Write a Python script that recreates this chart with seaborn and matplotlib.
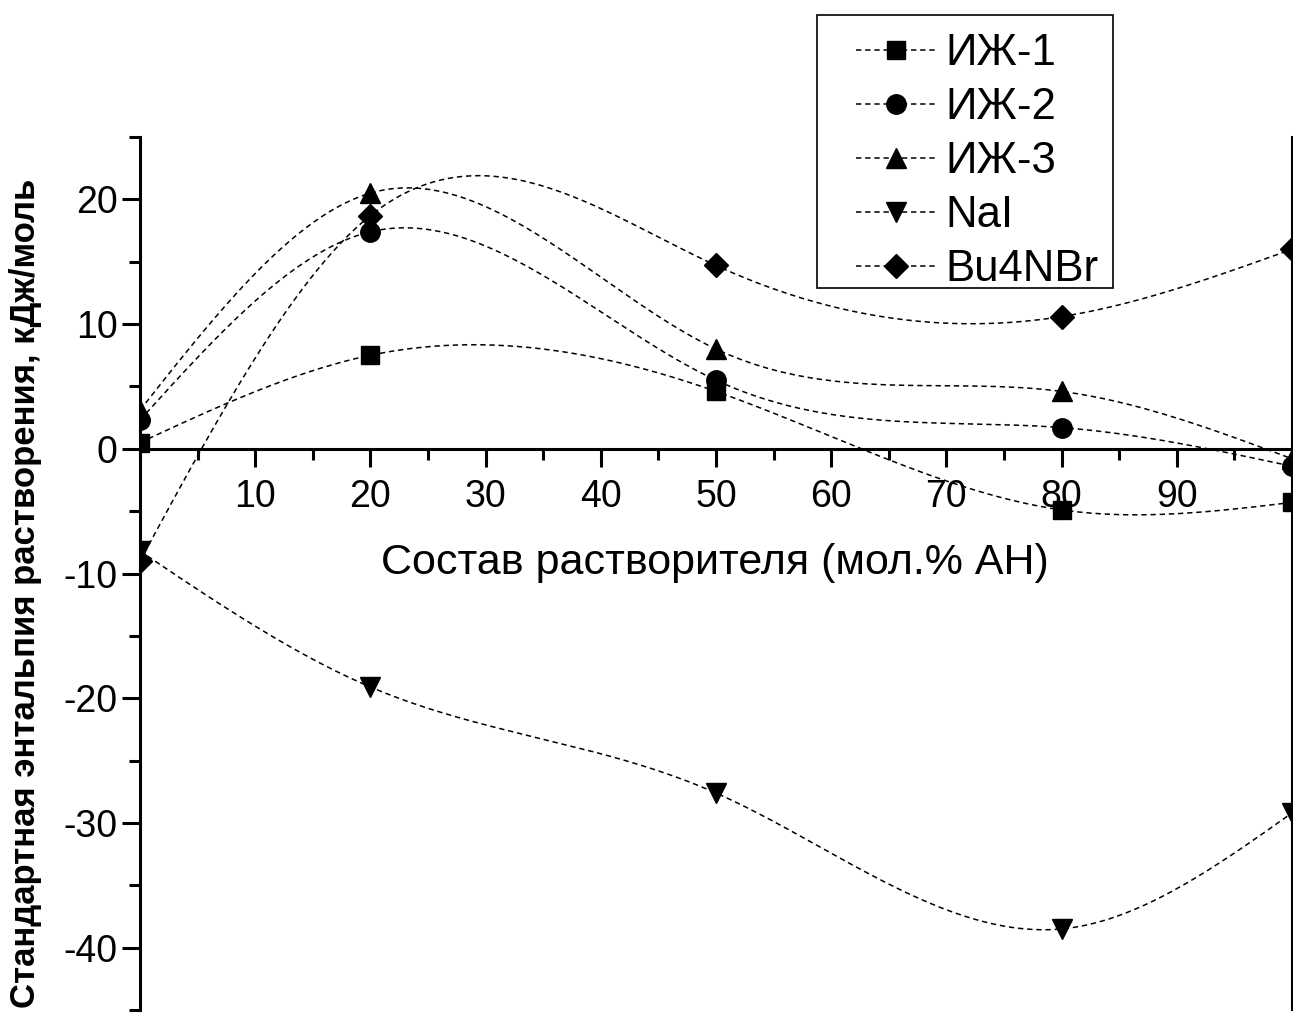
import numpy as np
import pandas as pd
import matplotlib
matplotlib.use('Agg')
import matplotlib.pyplot as plt
from matplotlib.lines import Line2D
from matplotlib.patches import Rectangle
from matplotlib.ticker import MultipleLocator
import seaborn as sns

# solvent composition, mol.% AN
x_comp = [0, 20, 50, 80, 100]

# standard enthalpy of solution, kJ/mol
il_1 = [0.5, 7.5, 4.6, -4.9, -4.3]
il_2 = [2.3, 17.4, 5.5, 1.7, -1.4]
il_3 = [3.1, 20.5, 8.0, 4.6, -0.8]
nai = [-8.2, -19.1, -27.6, -38.5, -29.2]
bu4nbr = [-9.0, 18.7, 14.7, 10.6, 16.0]

series_names = ['ИЖ-1', 'ИЖ-2', 'ИЖ-3', 'NaI', 'Bu4NBr']
series_values = [il_1, il_2, il_3, nai, bu4nbr]
markers = ['s', 'o', '^', 'v', 'D']
msizes = [13, 14, 15, 15, 12]


def natural_spline(xs, ys, n=300):
    """natural cubic spline through the points (like Origin's spline line)"""
    xs = np.asarray(xs, float)
    ys = np.asarray(ys, float)
    k = len(xs)
    h = np.diff(xs)
    A = np.zeros((k, k))
    b = np.zeros(k)
    A[0, 0] = A[-1, -1] = 1
    for i in range(1, k - 1):
        A[i, i - 1] = h[i - 1]
        A[i, i] = 2 * (h[i - 1] + h[i])
        A[i, i + 1] = h[i]
        b[i] = 6 * ((ys[i + 1] - ys[i]) / h[i] - (ys[i] - ys[i - 1]) / h[i - 1])
    M = np.linalg.solve(A, b)
    xx = np.linspace(xs[0], xs[-1], n)
    idx = np.clip(np.searchsorted(xs, xx) - 1, 0, k - 2)
    x0, x1 = xs[idx], xs[idx + 1]
    hh = x1 - x0
    t0 = x1 - xx
    t1 = xx - x0
    yy = (M[idx] * t0 ** 3 + M[idx + 1] * t1 ** 3) / (6 * hh) \
        + (ys[idx] / hh - M[idx] * hh / 6) * t0 \
        + (ys[idx + 1] / hh - M[idx + 1] * hh / 6) * t1
    return xx, yy


sns.set_style('white')
plt.rcParams['font.family'] = ['Liberation Sans', 'DejaVu Sans']
plt.rcParams['axes.unicode_minus'] = False
plt.rcParams['text.color'] = 'black'
plt.rcParams['xtick.color'] = 'black'
plt.rcParams['ytick.color'] = 'black'

W, H = 1293, 1016
fig = plt.figure(figsize=(W / 100, H / 100), dpi=100)
ax = fig.add_axes([140 / W, 1 - 1010 / H, 1152 / W, (1010 - 137) / H])

dash = (0, (3.5, 2.5))
for name, vals, m, ms in zip(series_names, series_values, markers, msizes):
    xx, yy = natural_spline(x_comp, vals)
    curve = pd.DataFrame({'x': xx, 'y': yy})
    sns.lineplot(data=curve, x='x', y='y', ax=ax, color='black', lw=1.1,
                 linestyle=dash, estimator=None, sort=False)
    pts = pd.DataFrame({'x': x_comp, 'y': vals})
    ax.plot(pts['x'], pts['y'], linestyle='none', marker=m, ms=ms,
            color='black', clip_on=True, zorder=5)

ax.set_xlim(0, 100)
ax.set_ylim(-45, 25)

for s in ['left', 'bottom', 'right']:
    ax.spines[s].set_visible(True)
    ax.spines[s].set_color('black')
    ax.spines[s].set_linewidth(2.2)
ax.spines['top'].set_visible(False)
ax.spines['right'].set_linewidth(1.5)
ax.spines['bottom'].set_position(('data', 0))

ax.set_xticks([10, 20, 30, 40, 50, 60, 70, 80, 90])
ax.xaxis.set_minor_locator(MultipleLocator(5))
ax.set_yticks([-40, -30, -20, -10, 0, 10, 20])
ax.yaxis.set_minor_locator(MultipleLocator(5))
ax.tick_params(axis='both', which='major', direction='out', length=13, width=2.2,
               labelsize=27, labelcolor='black')
ax.tick_params(axis='both', which='minor', direction='out', length=8, width=2.2)
ax.tick_params(axis='y', which='both', left=True, right=False, pad=3)
ax.tick_params(axis='x', which='both', bottom=True, top=False, pad=9)
ax.set_xlabel('')
ax.set_ylabel('')

fig.text(715 / W, 1 - 563 / H, 'Состав растворителя (мол.% АН)',
         fontsize=31, ha='center', va='center', color='black')
fig.text(26 / W, 1 - 593 / H, 'Стандартная энтальпия растворения, кДж/моль',
         fontsize=25, fontweight='bold', rotation=90, ha='center', va='center',
         color='black')

# legend frame drawn by hand (wider side padding than top/bottom)
fig.add_artist(Rectangle((817 / W, 1 - 288 / H), (1113 - 817) / W, (288 - 15) / H,
                         transform=fig.transFigure, fill=True, facecolor='white',
                         edgecolor='black', lw=1.2, zorder=10))
handles = [Line2D([], [], color='black', lw=1.1, linestyle=dash, marker=m, ms=ms)
           for m, ms in zip(markers, msizes)]
leg = fig.legend(handles, series_names, loc='upper left',
                 bbox_to_anchor=(856 / W, 1 - 33 / H), fontsize=31.5,
                 frameon=False, handlelength=1.85, handletextpad=0.2,
                 labelspacing=0.3, borderpad=0, borderaxespad=0)
leg.set_zorder(11)

fig.savefig('out.png', dpi=100)
